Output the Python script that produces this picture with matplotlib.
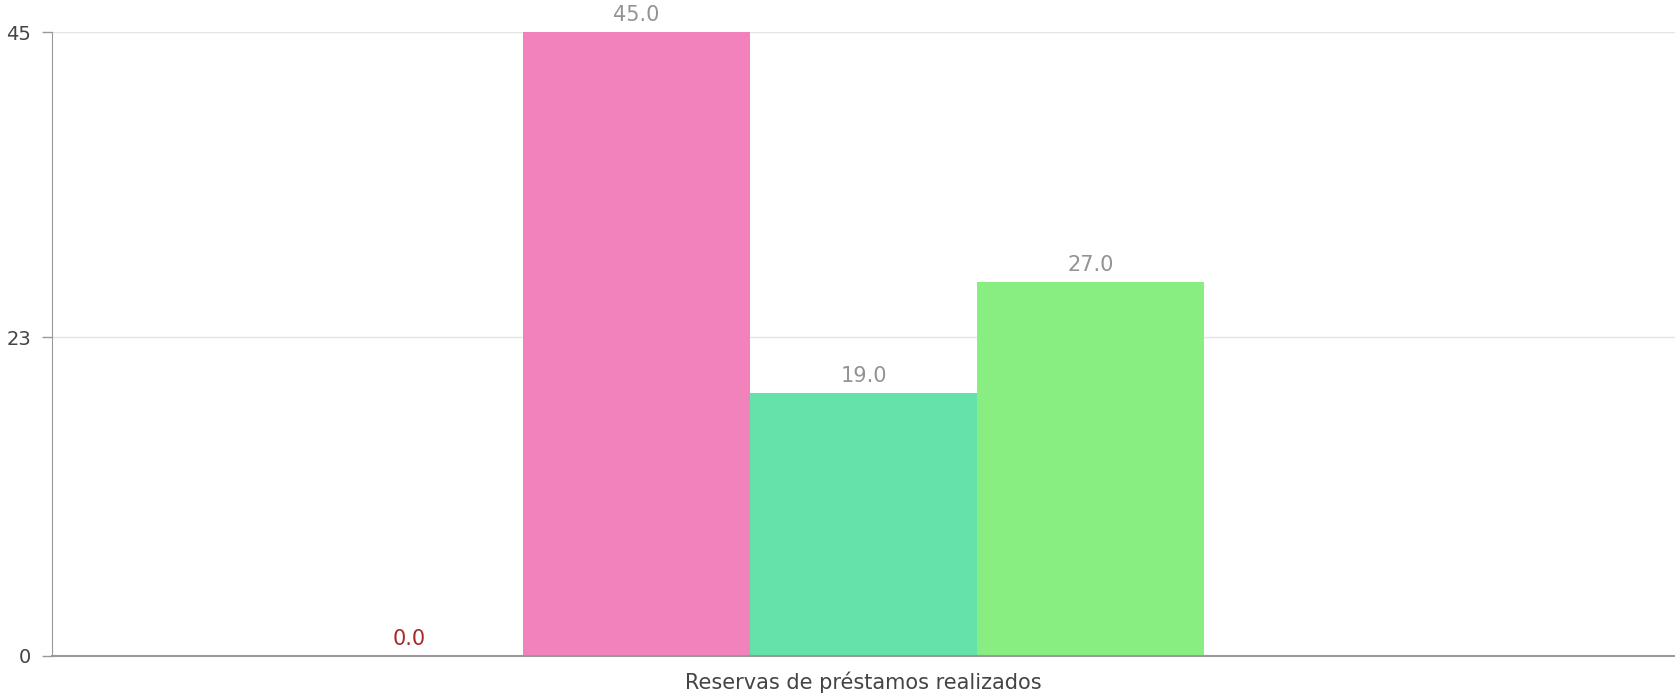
import matplotlib.pyplot as plt
import numpy as np

category = 'Reservas de préstamos realizados'
series_values = [0.0, 45.0, 19.0, 27.0]
bar_colors = ['#e0e0e0', '#f282bb', '#63e3aa', '#88ee82']
label_colors = ['#a52a2a', '#939393', '#939393', '#939393']
y_ticks = [0, 23, 45]

n_slots = 5  # renderer keeps room for one more series
bar_w = 0.7 / n_slots

fig = plt.figure(figsize=(16.75, 7), dpi=100)
ax = fig.add_axes([0.031, 0.063, 0.969, 0.891])

x = -0.35 + bar_w * (np.arange(len(series_values)) + 0.5)
bars = ax.bar(x, series_values, width=bar_w, color=bar_colors, linewidth=0, zorder=2)

for b, v, c in zip(bars, series_values, label_colors):
    ax.annotate('%.1f' % v, (b.get_x() + b.get_width() / 2, v), xytext=(0, 5),
                textcoords='offset points', ha='center', va='bottom',
                fontsize=15, color=c)

ax.set_xlim(-0.5, 0.5)
ax.set_ylim(0, 45)
ax.set_yticks(y_ticks)
ax.set_xticks([0])
ax.set_xticklabels([category])
ax.tick_params(axis='x', length=0, pad=11, labelsize=15, labelcolor='#444444')
ax.tick_params(axis='y', length=7, width=1, color='#999999', labelsize=14,
               labelcolor='#444444', pad=8)
ax.grid(axis='y', color='#e4e4e4', linewidth=1, zorder=0)

for s in ['top', 'right']:
    ax.spines[s].set_visible(False)
ax.spines['left'].set_color('#999999')
ax.spines['bottom'].set_color('#999999')
ax.spines['bottom'].set_linewidth(1.5)

fig.savefig('out.png', dpi=100)
